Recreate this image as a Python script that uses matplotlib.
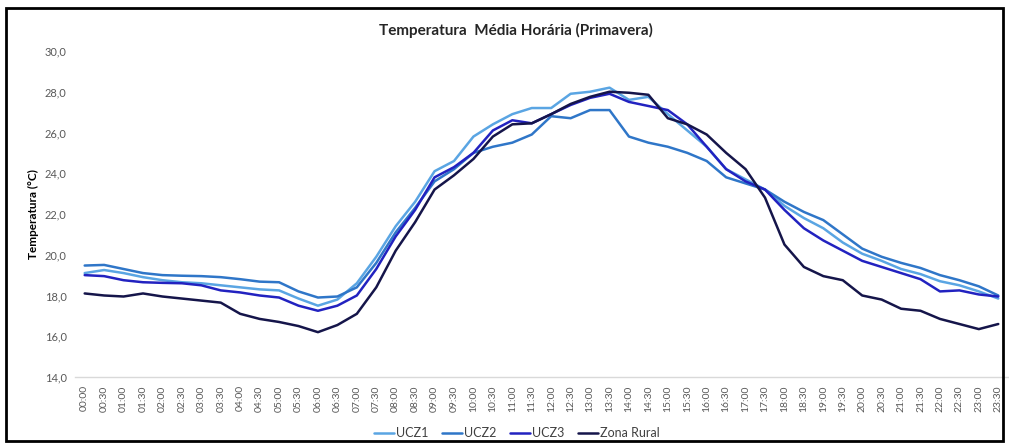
import numpy as np
import matplotlib
matplotlib.use('Agg')
import matplotlib.pyplot as plt
from matplotlib.patches import Rectangle

# ── data ──────────────────────────────────────────────────────────────────────
HOURS = [f'{h:02d}:{m:02d}' for h in range(24) for m in (0, 30)]

UCZ1 = [19.1, 19.25, 19.1, 18.9, 18.75, 18.65, 18.6, 18.5, 18.4, 18.3,
        18.25, 17.85, 17.5, 17.8, 18.6, 19.9, 21.4, 22.6, 24.1, 24.6,
        25.8, 26.4, 26.9, 27.2, 27.2, 27.9, 28.0, 28.2, 27.6, 27.75,
        26.9, 26.1, 25.3, 24.2, 23.7, 23.2, 22.4, 21.8, 21.3, 20.6,
        20.05, 19.7, 19.3, 19.05, 18.7, 18.5, 18.2, 17.85]

UCZ2 = [19.47, 19.5, 19.3, 19.1, 19.0, 18.97, 18.95, 18.9, 18.8, 18.68,
        18.65, 18.2, 17.9, 17.95, 18.4, 19.6, 21.1, 22.3, 23.6, 24.2,
        25.0, 25.3, 25.5, 25.9, 26.8, 26.7, 27.1, 27.1, 25.8, 25.5,
        25.3, 25.0, 24.6, 23.8, 23.5, 23.2, 22.6, 22.1, 21.7, 21.0,
        20.3, 19.9, 19.6, 19.35, 19.0, 18.75, 18.45, 18.0]

UCZ3 = [19.0, 18.95, 18.75, 18.65, 18.62, 18.6, 18.5, 18.25, 18.15, 18.0,
        17.9, 17.5, 17.25, 17.5, 18.0, 19.3, 20.9, 22.2, 23.8, 24.3,
        25.0, 26.1, 26.6, 26.45, 26.9, 27.35, 27.7, 27.9, 27.5, 27.3,
        27.1, 26.4, 25.3, 24.2, 23.6, 23.2, 22.2, 21.3, 20.7, 20.2,
        19.7, 19.4, 19.1, 18.8, 18.2, 18.25, 18.05, 17.95]

RURAL = [18.1, 18.0, 17.95, 18.1, 17.95, 17.85, 17.75, 17.65, 17.1, 16.85,
         16.7, 16.5, 16.2, 16.55, 17.1, 18.4, 20.2, 21.6, 23.2, 23.9,
         24.7, 25.8, 26.4, 26.45, 26.9, 27.4, 27.75, 28.0, 27.95, 27.85,
         26.7, 26.4, 25.9, 25.0, 24.2, 22.8, 20.5, 19.4, 18.95, 18.75,
         18.0, 17.8, 17.35, 17.25, 16.85, 16.6, 16.35, 16.6]

SERIES = [('UCZ1', UCZ1, '#5AA5E3'),
          ('UCZ2', UCZ2, '#2F76C8'),
          ('UCZ3', UCZ3, '#2222C0'),
          ('Zona Rural', RURAL, '#15154A')]

plt.rcParams['font.family'] = ['Lato', 'DejaVu Sans']
GREY = '#595959'

# ── figure ────────────────────────────────────────────────────────────────────
fig = plt.figure(figsize=(10.09, 4.48), dpi=100, facecolor='white')
ax = fig.add_axes([0.0743, 0.1585, 0.9247, 0.7277])

x = np.arange(len(HOURS))
for name, vals, col in SERIES:
    ax.plot(x, vals, color=col, lw=1.8, label=name, solid_capstyle='round')

ax.set_xlim(-0.5, len(HOURS) - 0.5)
ax.set_ylim(14, 30)
ax.set_yticks(np.arange(14, 31, 2))
ax.set_yticklabels([f'{v:.1f}'.replace('.', ',') for v in np.arange(14, 31, 2)],
                   fontsize=8, color=GREY)
ax.set_xticks(x)
ax.set_xticklabels(HOURS, rotation=90, fontsize=7.5, color=GREY)
ax.tick_params(axis='both', length=0, pad=6)

for s in ('top', 'right', 'left'):
    ax.spines[s].set_visible(False)
ax.spines['bottom'].set_color('#d9d9d9')
ax.spines['bottom'].set_linewidth(1)

ax.set_ylabel('Temperatura (°C)', fontsize=8.5, fontweight='bold',
              color='black', labelpad=4)

fig.text(0.511, 0.933, 'Temperatura  Média Horária (Primavera)',
         ha='center', va='center', fontsize=11, fontweight='bold',
         color='#262626')

fig.legend(loc='center', bbox_to_anchor=(0.512, 0.033), ncol=4, frameon=False,
           fontsize=9, handlelength=1.6, handletextpad=0.15, columnspacing=1.1,
           labelcolor='#404040')

# outer frame
fig.patches.append(Rectangle((6 / 1009, 1 - 441 / 448), 997 / 1009, 433 / 448,
                             transform=fig.transFigure, fill=False,
                             edgecolor='black', lw=2, zorder=10))

fig.savefig('out.png', dpi=100, facecolor='white')
